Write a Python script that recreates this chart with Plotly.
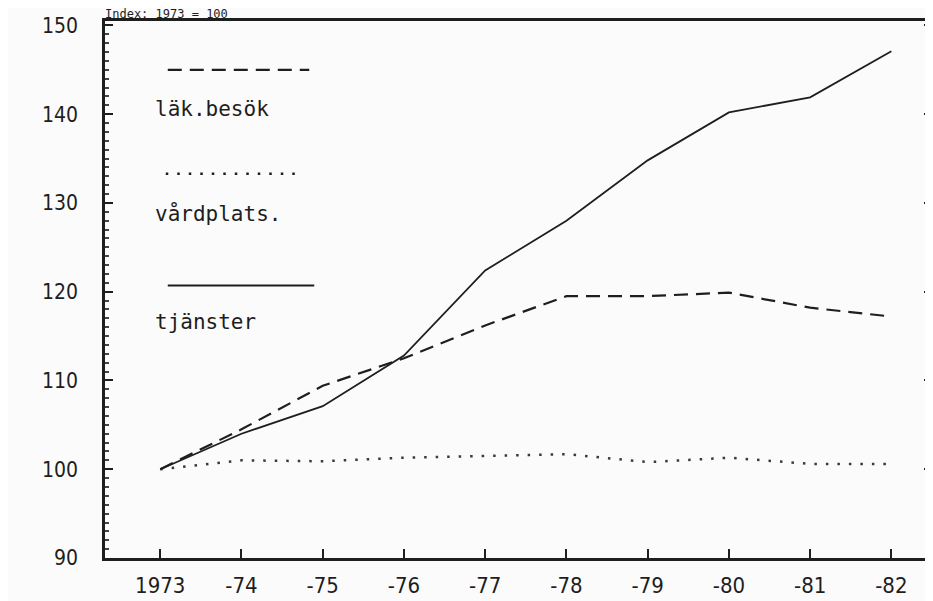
import plotly.graph_objects as go

years = [1973, 1974, 1975, 1976, 1977, 1978, 1979, 1980, 1981, 1982]
year_labels = ["1973", "-74", "-75", "-76", "-77", "-78", "-79", "-80", "-81", "-82"]
lak_besok = [100, 104.5, 109.4, 112.5, 116.2, 119.5, 119.5, 119.9, 118.2, 117.2]
vardplats = [100, 101.0, 100.9, 101.3, 101.5, 101.7, 100.8, 101.3, 100.6, 100.6]
tjanster = [100, 104.0, 107.1, 112.8, 122.4, 128.0, 134.8, 140.2, 141.9, 147.1]
y_ticks = [90, 100, 110, 120, 130, 140, 150]

FONT = "DejaVu Sans Mono"
TICKFONT = "DejaVu Sans Condensed"
ink = "#1e1e1e"
DASH = "14px,8px"
DOT = "2.5px,9px"

fig = go.Figure()
fig.add_trace(go.Scatter(x=years, y=lak_besok, mode="lines", name="läk.besök",
                         line=dict(color=ink, width=2.2, dash=DASH)))
fig.add_trace(go.Scatter(x=years, y=vardplats, mode="lines", name="vårdplats.",
                         line=dict(color="#3a3a3a", width=2.5, dash=DOT)))
fig.add_trace(go.Scatter(x=years, y=tjanster, mode="lines", name="tjänster",
                         line=dict(color=ink, width=1.8)))

# legend drawn inside the plot area (paper coords)
W, H = 933, 601
L, R, T, B = 97, 6, 12, 51
pw, ph = W - L - R, H - T - B
def px(x): return (x - L) / pw
def py(y): return 1 - (y - T) / ph

legend_items = [("läk.besök", DASH, 2.2, 160, 302, 61, 100),
                ("vårdplats.", DOT, 2.5, 158, 296, 165, 205),
                ("tjänster", "solid", 2.2, 160, 307, 277, 314)]
for text, dash, w, x0, x1, ly, ty in legend_items:
    fig.add_shape(type="line", xref="paper", yref="paper",
                  x0=px(x0), x1=px(x1), y0=py(ly), y1=py(ly),
                  line=dict(color=ink, width=w, dash=dash))
    fig.add_annotation(xref="paper", yref="paper", x=px(145), y=py(ty),
                       text=text, showarrow=False, xanchor="left", yanchor="middle",
                       font=dict(family=FONT, size=21, color=ink))

fig.add_annotation(xref="paper", yref="paper", x=px(95), y=py(5),
                   text="Index: 1973 = 100", showarrow=False, xanchor="left",
                   yanchor="middle", font=dict(family=FONT, size=12, color=ink))

fig.update_layout(
    width=W, height=H,
    margin=dict(l=L, r=R, t=T, b=B),
    paper_bgcolor="#fbfbfb", plot_bgcolor="#fbfbfb",
    showlegend=False,
    font=dict(family=FONT, size=16, color=ink),
)
fig.update_xaxes(range=[1972.32, 1982.5], tickvals=years, ticktext=year_labels,
                 ticks="inside", ticklen=9, tickcolor=ink, tickwidth=1.5,
                 showgrid=False, zeroline=False,
                 showline=True, linecolor=ink, linewidth=2.5, mirror=True,
                 ticklabelstandoff=6,
                 tickfont=dict(family=TICKFONT, size=22))
fig.update_yaxes(range=[90, 150.5], tickvals=y_ticks,
                 ticks="inside", ticklen=8, tickcolor=ink, tickwidth=1.5,
                 showgrid=False, zeroline=False,
                 showline=True, linecolor=ink, linewidth=2.5, mirror="ticks",
                 ticklabelstandoff=20,
                 minor=dict(dtick=1, ticks="inside", ticklen=4, tickcolor="#444444"),
                 tickfont=dict(family=TICKFONT, size=21))

fig.write_html("out.html")
